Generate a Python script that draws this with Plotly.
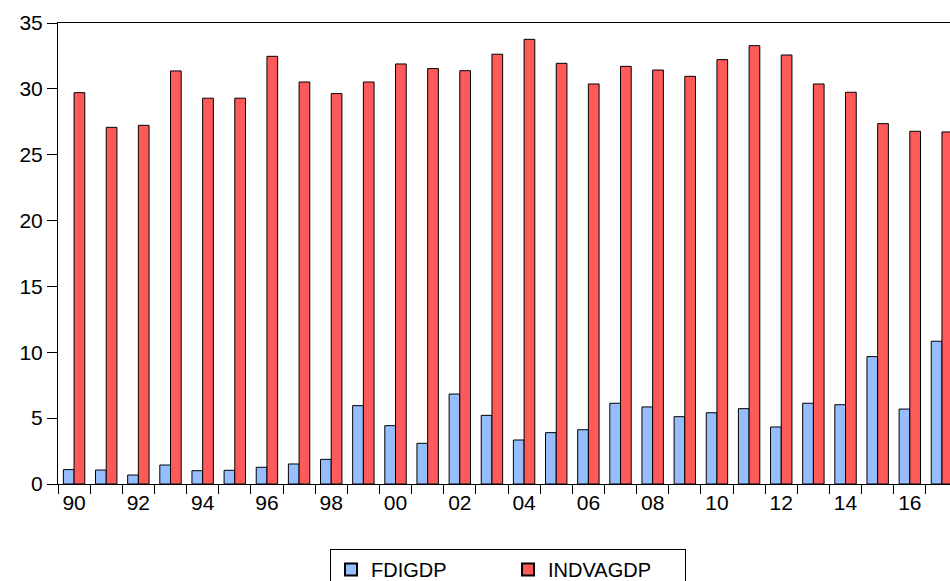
import plotly.graph_objects as go

years = list(range(1990, 2018))
fdigdp = [1.09, 1.06, 0.68, 1.44, 1.01, 1.04, 1.27, 1.52, 1.87, 5.95,
          4.43, 3.09, 6.83, 5.21, 3.34, 3.90, 4.12, 6.13, 5.85, 5.11,
          5.41, 5.72, 4.33, 6.13, 6.02, 9.67, 5.69, 10.84]
indvagdp = [29.71, 27.08, 27.23, 31.36, 29.29, 29.29, 32.47, 30.52, 29.64, 30.52,
            31.89, 31.54, 31.38, 32.63, 33.76, 31.94, 30.37, 31.71, 31.43, 30.95,
            32.22, 33.28, 32.57, 30.37, 29.74, 27.36, 26.78, 26.73]
label_years = list(range(1990, 2018, 2))
label_text = [f"{y % 100:02d}" for y in label_years]
yticks = [0, 5, 10, 15, 20, 25, 30, 35]

FONT = "Liberation Sans, Arial, sans-serif"

fig = go.Figure()
fig.add_trace(go.Bar(x=years, y=fdigdp, name="FDIGDP",
                     marker=dict(color="rgb(150,190,255)", line=dict(color="black", width=1))))
fig.add_trace(go.Bar(x=years, y=indvagdp, name="INDVAGDP",
                     marker=dict(color="rgb(255,90,90)", line=dict(color="black", width=1))))

fig.update_layout(
    width=950, height=581,
    margin=dict(l=58, r=0, t=23, b=97, autoexpand=False),
    paper_bgcolor="white", plot_bgcolor="white",
    barmode="group", bargap=0.334, bargroupgap=0,
    font=dict(family=FONT, color="black", size=21),
    legend=dict(orientation="h", x=0.5045, xanchor="center", y=-0.141, yanchor="top",
                bordercolor="black", borderwidth=1, bgcolor="white",
                font=dict(size=20, family=FONT, color="black"),
                entrywidth=132, entrywidthmode="pixels",
                itemsizing="constant", traceorder="normal"),
    xaxis=dict(range=[1989.5, 2017.25], tickmode="array", tickvals=label_years,
               ticktext=label_text, ticks="", showgrid=False, zeroline=False,
               automargin=False,
               showline=True, linecolor="black", linewidth=1, mirror=True,
               tickfont=dict(size=21, family=FONT, color="black"),
               minor=dict(tick0=1989.5, dtick=1, ticks="outside", ticklen=9,
                          tickcolor="black", tickwidth=1, showgrid=False)),
    yaxis=dict(range=[0, 35], tickmode="array", tickvals=yticks, ticks="outside",
               ticklen=10, tickcolor="black", showgrid=False, zeroline=False,
               automargin=False,
               showline=True, linecolor="black", linewidth=1,
               tickfont=dict(size=21, family=FONT, color="black")),
)

# remove the default 8px page margin so the 950x581 figure fills the window exactly
fig.write_html("out.html",
               config={"displayModeBar": False},
               post_script="document.body.style.margin='0';document.body.style.overflow='hidden';")
